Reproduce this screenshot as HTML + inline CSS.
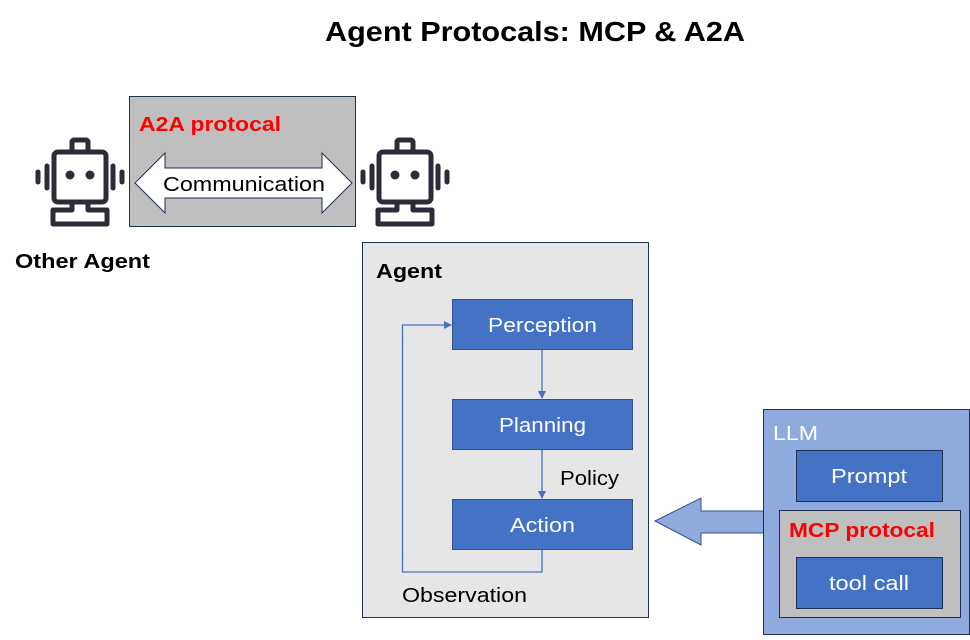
<!DOCTYPE html>
<html><head><meta charset="utf-8"><style>
body{margin:0;width:970px;height:635px;background:#fff;overflow:hidden}
text{font-family:"Liberation Sans","Noto Sans CJK SC",sans-serif}
</style></head><body>
<svg width="970" height="635" viewBox="0 0 970 635" xmlns="http://www.w3.org/2000/svg">
<defs>
<g id="robot" fill="none" stroke="#2b2b3a" stroke-width="5" stroke-linejoin="round">
<rect x="-26" y="-28" width="52" height="50" rx="4"/>
<rect x="-8" y="-40" width="16" height="12" rx="2"/>
<path d="M-8 22 V30 H-27 V44 H27 V30 H8 V22"/>
<line x1="-33" y1="-14" x2="-33" y2="8" stroke-linecap="round"/>
<line x1="-42" y1="-8" x2="-42" y2="2" stroke-linecap="round"/>
<line x1="33" y1="-14" x2="33" y2="8" stroke-linecap="round"/>
<line x1="42" y1="-8" x2="42" y2="2" stroke-linecap="round"/>
<circle cx="-10" cy="-5" r="4.5" fill="#2b2b3a" stroke="none"/>
<circle cx="10" cy="-5" r="4.5" fill="#2b2b3a" stroke="none"/>
</g>
<marker id="ah" markerWidth="8" markerHeight="8" refX="7" refY="4" orient="auto" markerUnits="userSpaceOnUse"><path d="M0 0 L8 4 L0 8Z" fill="#4472c4"/></marker>
</defs>
<text x="325" y="41" font-size="28" font-weight="bold" fill="#000" textLength="420" lengthAdjust="spacingAndGlyphs">Agent Protocals: MCP &amp; A2A</text>

<use href="#robot" x="80" y="180"/>
<use href="#robot" x="405" y="180"/>
<text x="15" y="268" font-size="20" font-weight="bold" textLength="135" lengthAdjust="spacingAndGlyphs">Other Agent</text>

<rect x="129.5" y="96.5" width="226" height="130" fill="#bfbfbf" stroke="#1f3050"/>
<text x="139" y="131" font-size="20" font-weight="bold" fill="#ff0000" textLength="142" lengthAdjust="spacingAndGlyphs">A2A protocal</text>
<path d="M135 183 L165 153 L165 168 L322 168 L322 153 L352 183 L322 213 L322 198 L165 198 L165 213 Z" fill="#fff" stroke="#1f3050" stroke-width="1"/>
<text x="163" y="191" font-size="20" textLength="162" lengthAdjust="spacingAndGlyphs">Communication</text>

<rect x="362.5" y="242.5" width="286" height="375" fill="#e6e6e6" stroke="#1f3050"/>
<text x="376" y="278" font-size="20" font-weight="bold" textLength="66" lengthAdjust="spacingAndGlyphs">Agent</text>
<g fill="#4472c4" stroke="#2f528f">
<rect x="452.5" y="299.5" width="180" height="50"/>
<rect x="452.5" y="399.5" width="180" height="50"/>
<rect x="452.5" y="499.5" width="180" height="50"/>
</g>
<g font-size="20" fill="#fff">
<text x="488" y="332" textLength="109" lengthAdjust="spacingAndGlyphs">Perception</text>
<text x="499" y="432" textLength="87" lengthAdjust="spacingAndGlyphs">Planning</text>
<text x="510" y="532" textLength="65" lengthAdjust="spacingAndGlyphs">Action</text>
</g>
<g stroke="#4472c4" stroke-width="1.3" fill="none">
<line x1="542" y1="350" x2="542" y2="398" marker-end="url(#ah)"/>
<line x1="542" y1="450" x2="542" y2="498" marker-end="url(#ah)"/>
<path d="M542 550 V572 H402.5 V325 H451" marker-end="url(#ah)"/>
</g>
<text x="560" y="485" font-size="20" textLength="59" lengthAdjust="spacingAndGlyphs">Policy</text>
<text x="402" y="602" font-size="20" textLength="125" lengthAdjust="spacingAndGlyphs">Observation</text>

<path d="M655 521 L701 498 L701 511 L764 511 L764 533 L701 533 L701 545 Z" fill="#8faadc" stroke="#2f528f" stroke-width="1"/>
<rect x="763.5" y="409.5" width="206" height="225" fill="#8faadc" stroke="#1f3050"/>
<text x="773" y="440" font-size="20" fill="#fff" textLength="45" lengthAdjust="spacingAndGlyphs">LLM</text>
<rect x="796.5" y="450.5" width="146" height="51" fill="#4472c4" stroke="#1f3050"/>
<text x="831" y="483" font-size="20" fill="#fff" textLength="76" lengthAdjust="spacingAndGlyphs">Prompt</text>
<rect x="779.5" y="510.5" width="181" height="107" fill="#bfbfbf" stroke="#1f3050"/>
<text x="789" y="537" font-size="20" font-weight="bold" fill="#ff0000" textLength="146" lengthAdjust="spacingAndGlyphs">MCP protocal</text>
<rect x="796.5" y="557.5" width="146" height="51" fill="#4472c4" stroke="#1f3050"/>
<text x="829" y="590" font-size="20" fill="#fff" textLength="80" lengthAdjust="spacingAndGlyphs">tool call</text>
</svg>
</body></html>
